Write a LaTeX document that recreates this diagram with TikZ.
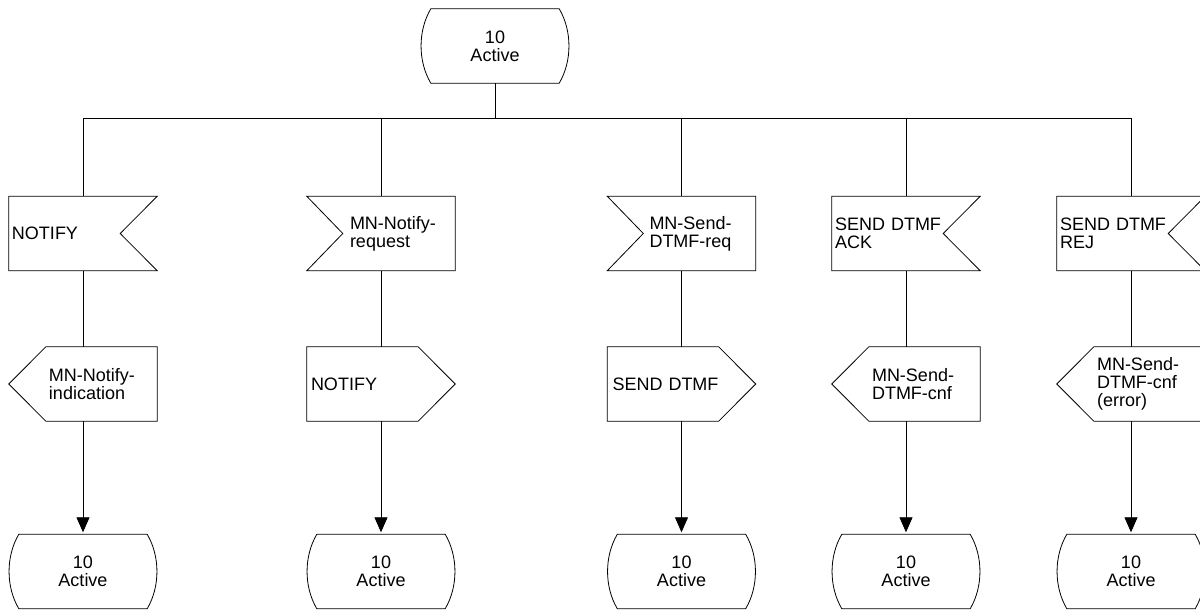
\documentclass[tikz,border=0pt]{standalone}
\usepackage{fontspec}
\setmainfont{Liberation Sans}
\usetikzlibrary{arrows.meta,calc}
\begin{document}
\begin{tikzpicture}[x=1pt,y=-1pt,
  every node/.style={font=\fontsize{18}{18}\selectfont},
  el/.style={minimum height=74pt, inner xsep=3pt, inner ysep=0pt, text width=142pt},
  stat/.style={el, align=center},
  txt/.style={el, align=left, execute at begin node={\leftskip=#1\relax}},
  ln/.style={line width=0.8pt},
  arr/.style={ln, -{Triangle[length=15pt,width=13pt]}, shorten >=2pt}
]
\useasboundingbox (0,0) rectangle (1200,610);

% states
\node[stat] (top) at (495,46) {10\\Active};
\node[stat] (e1) at (83,571.5) {10\\Active};
\node[stat] (e2) at (381,571.5) {10\\Active};
\node[stat] (e3) at (681.5,571.5) {10\\Active};
\node[stat] (e4) at (906,571.5) {10\\Active};
\node[stat] (e5) at (1131,571.5) {10\\Active};

% input signals
\node[txt=0pt] (s1) at (83,233.5) {NOTIFY};
\node[txt=40pt] (s2) at (381,233.5) {MN-Notify-\\request};
\node[txt=39pt] (s3) at (681.5,233.5) {MN-Send-\\DTMF-req};
\node[txt=0pt] (s4) at (906,233.5) {SEND DTMF\\ACK};
\node[txt=0pt] (s5) at (1131,233.5) {SEND DTMF\\REJ};

% output signals
\node[txt=37pt] (o1) at (83,384) {MN-Notify-\\indication};
\node[txt=1pt] (o2) at (381,384) {NOTIFY};
\node[txt=2pt] (o3) at (681.5,384) {SEND DTMF};
\node[txt=37pt] (o4) at (906,384) {MN-Send-\\DTMF-cnf};
\node[txt=37pt] (o5) at (1131,384) {MN-Send-\\DTMF-cnf\\(error)};

% outlines
\foreach \n in {top,e1,e2,e3,e4,e5}
  \draw[ln] ([xshift=-10pt]\n.north east) .. controls ([xshift=3pt,yshift=-22pt]\n.north east) and ([xshift=3pt,yshift=22pt]\n.south east) .. ([xshift=-10pt]\n.south east)
    -- ([xshift=10pt]\n.south west) .. controls ([xshift=-3pt,yshift=22pt]\n.south west) and ([xshift=-3pt,yshift=-22pt]\n.north west) .. ([xshift=10pt]\n.north west) -- cycle;
\foreach \n in {s1,s4,s5}
  \draw[ln] (\n.north west) -- (\n.north east) -- ([xshift=-37pt]\n.east) -- (\n.south east) -- (\n.south west) -- cycle;
\foreach \n in {s2,s3}
  \draw[ln] (\n.north west) -- (\n.north east) -- (\n.south east) -- (\n.south west) -- ([xshift=36pt]\n.west) -- cycle;
\foreach \n in {o1,o4,o5}
  \draw[ln] (\n.west) -- ([xshift=37pt]\n.north west) -- (\n.north east) -- (\n.south east) -- ([xshift=37pt]\n.south west) -- cycle;
\foreach \n in {o2,o3}
  \draw[ln] (\n.north west) -- ([xshift=-37pt]\n.north east) -- (\n.east) -- ([xshift=-37pt]\n.south east) -- (\n.south west) -- cycle;

% bus
\coordinate (b1) at (83,118);
\coordinate (b2) at (381,118);
\coordinate (b3) at (681.5,118);
\coordinate (b4) at (906,118);
\coordinate (b5) at (1131,118);
\draw[ln] (top.south) -- (top.south |- b1);
\draw[ln] (b1) -- (b5);
\foreach \i in {1,...,5} {
  \draw[ln] (b\i) -- (s\i.north);
  \draw[ln] (s\i.south) -- (o\i.north);
  \draw[arr] (o\i.south) -- (e\i.north);
}
\end{tikzpicture}
\end{document}
